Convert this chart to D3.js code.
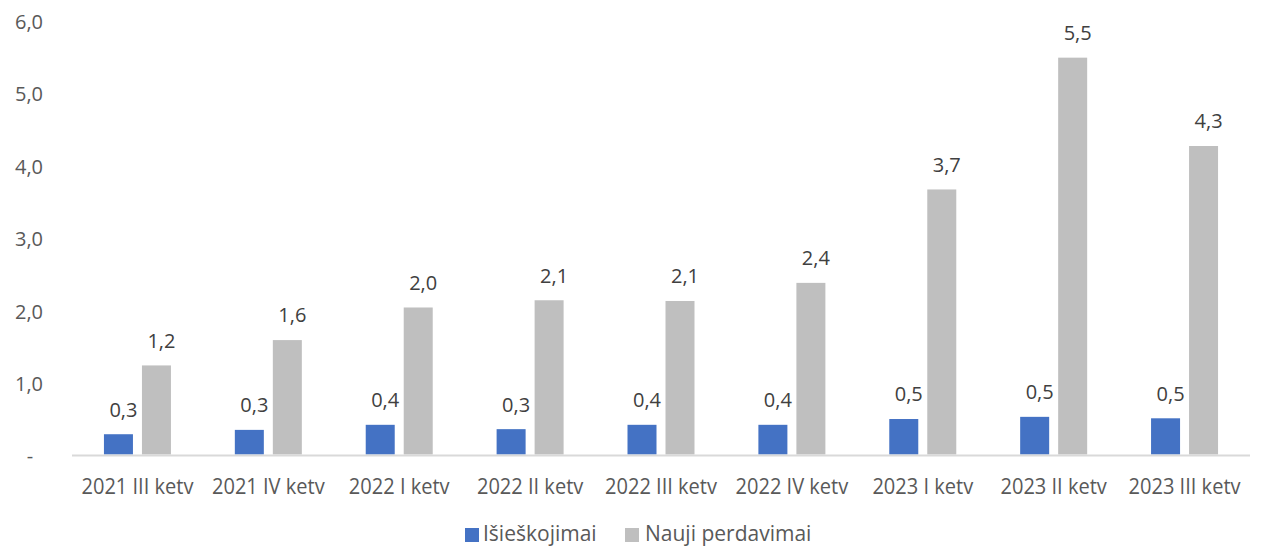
<!DOCTYPE html>
<html>
<head>
<meta charset="utf-8">
<script src="https://cdn.jsdelivr.net/npm/d3@7"></script>
<style>
  html, body { margin: 0; padding: 0; background: #ffffff; }
  svg { display: block; font-family: "Open Sans", "Noto Sans", sans-serif; }
</style>
</head>
<body>
<svg id="chart" width="1262" height="548"></svg>
<script>
// Quarterly figures, one entry per quarter
const categories = ["2021 III ketv", "2021 IV ketv", "2022 I ketv", "2022 II ketv", "2022 III ketv",
                    "2022 IV ketv", "2023 I ketv", "2023 II ketv", "2023 III ketv"];
const seriesNames = ["Išieškojimai", "Nauji perdavimai"];
const isieskojimai = [0.28, 0.34, 0.41, 0.35, 0.41, 0.41, 0.49, 0.52, 0.50];
const naujiPerdavimai = [1.23, 1.58, 2.03, 2.13, 2.12, 2.37, 3.66, 5.48, 4.26];
const yTicks = [0, 1, 2, 3, 4, 5, 6];
const colors = ["#4472C4", "#BFBFBF"];

const svg = d3.select("#chart");
const margin = { left: 72, right: 12, top: 20 };
const W = 1262;
const plotBottom = 454.5;

const x = d3.scaleBand().domain(categories).range([margin.left, W - margin.right]).padding(0);
const y = d3.scaleLinear().domain([0, 6]).range([plotBottom, margin.top]);

const fmt = v => d3.format(".1f")(v).replace(".", ",");

// Value axis labels (no axis line, no gridlines)
const yAxis = d3.axisLeft(y).tickValues(yTicks).tickSize(0).tickPadding(0)
  .tickFormat(v => v === 0 ? "-" : fmt(v));
const yG = svg.append("g").attr("transform", "translate(43,0)").call(yAxis);
yG.select(".domain").remove();
yG.selectAll("text")
  .attr("font-family", "Open Sans")
  .attr("font-size", 20)
  .attr("fill", "#595959")
  .attr("dy", "0.42em")
  .filter(v => v === 0)
  .attr("text-anchor", "middle")
  .attr("x", -13);

// Bars, two per quarter
const barW = 29;
const groupGap = 9;
const offsets = [x.bandwidth() / 2 - groupGap / 2 - barW, x.bandwidth() / 2 + groupGap / 2];

const seriesData = [isieskojimai, naujiPerdavimai];
seriesData.forEach((vals, si) => {
  const g = svg.append("g");
  g.selectAll("rect")
    .data(vals)
    .join("rect")
    .attr("x", (d, i) => x(categories[i]) + offsets[si])
    .attr("y", d => y(d))
    .attr("width", barW)
    .attr("height", d => y(0) - y(d))
    .attr("fill", colors[si]);

  g.selectAll("text")
    .data(vals)
    .join("text")
    .attr("x", (d, i) => x(categories[i]) + offsets[si] + barW / 2 + 5)
    .attr("y", d => y(d) - 17.6)
    .attr("text-anchor", "middle")
    .attr("font-size", 20)
    .attr("fill", "#404040")
    .text(d => fmt(d));
});

// Category axis baseline
svg.append("line")
  .attr("x1", margin.left).attr("x2", W - margin.right)
  .attr("y1", plotBottom + 1).attr("y2", plotBottom + 1)
  .attr("stroke", "#D9D9D9").attr("stroke-width", 2);

const xAxis = d3.axisBottom(x).tickSize(0).tickPadding(0);
const xG = svg.append("g").attr("transform", `translate(0,${plotBottom})`).call(xAxis);
xG.select(".domain").remove();
xG.selectAll("text")
  .attr("font-family", "Open Sans")
  .attr("font-size", 21)
  .attr("fill", "#595959")
  .attr("y", 0)
  .attr("dy", 0)
  .attr("transform", "translate(0,39) scale(0.955,1)");

// Legend
const legendItems = [
  { name: seriesNames[0], color: colors[0], sx: 465, tx: 483 },
  { name: seriesNames[1], color: colors[1], sx: 625, tx: 645 }
];
const lg = svg.append("g");
lg.selectAll("rect").data(legendItems).join("rect")
  .attr("x", d => d.sx).attr("y", 528).attr("width", 14).attr("height", 14)
  .attr("fill", d => d.color);
lg.selectAll("text").data(legendItems).join("text")
  .attr("x", d => d.tx).attr("y", 541)
  .attr("font-size", 21).attr("fill", "#595959")
  .text(d => d.name);
</script>
</body>
</html>
